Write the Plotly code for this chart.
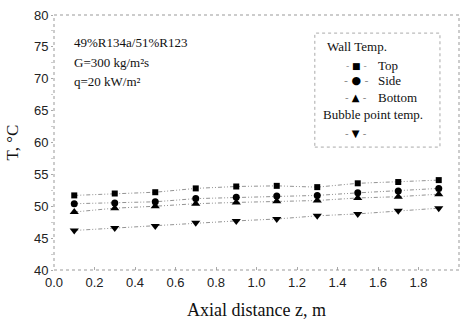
import plotly.graph_objects as go

z = [0.1, 0.3, 0.5, 0.7, 0.9, 1.1, 1.3, 1.5, 1.7, 1.9]
top = [51.7, 52.0, 52.2, 52.8, 53.1, 53.2, 53.0, 53.6, 53.8, 54.1]
side = [50.4, 50.5, 50.7, 51.2, 51.4, 51.6, 51.7, 52.1, 52.4, 52.8]
bottom = [49.1, 49.7, 50.0, 50.4, 50.6, 50.8, 50.9, 51.3, 51.5, 51.9]
bubble = [46.2, 46.6, 46.9, 47.4, 47.7, 48.0, 48.5, 48.8, 49.3, 49.7]

series_names = ["Top", "Side", "Bottom", "Bubble point temp."]
series_vals = [top, side, bottom, bubble]
symbols = ["square", "circle", "triangle-up", "triangle-down"]
sizes = [6, 7, 8, 8]
glyphs = ["■", "●", "▲", "▼"]
glyph_sizes = [9, 11, 10, 10]

serif = "Liberation Serif"
sans = "Liberation Sans"

fig = go.Figure()
for name, vals, sym, sz in zip(series_names, series_vals, symbols, sizes):
    fig.add_trace(go.Scatter(
        x=z, y=vals, mode="lines+markers", name=name, showlegend=False,
        marker=dict(symbol=sym, size=sz, color="#000"),
        line=dict(color="#777", width=0.8, dash="4px,2px,1px,2px,1px,2px"),
    ))

fig.update_layout(
    width=467, height=325,
    margin=dict(l=54, r=8, t=15, b=55),
    paper_bgcolor="white", plot_bgcolor="white",
    xaxis=dict(range=[0, 2.0], dtick=0.2, tickformat=".1f", showgrid=False, zeroline=False,
               ticks="inside", ticklen=3, tickcolor="#aaa", ticklabelstandoff=3,
               tickfont=dict(family=sans, size=13, color="#222"),
               title=dict(text="Axial distance z, m", font=dict(family=serif, size=18, color="#111"), standoff=14)),
    yaxis=dict(range=[40, 80], dtick=5, showgrid=False, zeroline=False,
               ticks="outside", ticklen=2, tickcolor="#aaa",
               minor=dict(dtick=2.5, ticks="outside", ticklen=2, tickcolor="#ccc"),
               tickfont=dict(family=sans, size=13, color="#222"),
               title=dict(text="T, °C", font=dict(family=serif, size=17, color="#111"), standoff=10)),
    font=dict(family=serif),
)

# dotted plot frame
fig.add_shape(type="rect", xref="paper", yref="paper", x0=0, y0=0, x1=1, y1=1,
              line=dict(color="#999", width=1, dash="dot"))
# dotted legend box
fig.add_shape(type="rect", xref="paper", yref="paper", x0=0.644, y0=0.482, x1=0.953, y1=0.929,
              line=dict(color="#aaa", width=1, dash="dot"))

notes = ["49%R134a/51%R123", "G=300 kg/m²s", "q=20 kW/m²"]
for i, t in enumerate(notes):
    fig.add_annotation(text=t, xref="paper", yref="paper", x=0.045, y=0.892 - i * 0.077,
                       xanchor="left", yanchor="middle", showarrow=False,
                       font=dict(family=serif, size=13, color="#111"))

# legend (manual)
def ann(text, x, y, size=13, family=serif, anchor="left"):
    fig.add_annotation(text=text, xref="paper", yref="paper", x=x, y=y,
                       xanchor=anchor, yanchor="middle", showarrow=False,
                       font=dict(family=family, size=size, color="#111"))

ann("Wall Temp.", 0.669, 0.875)
ann("Bubble point temp.", 0.660, 0.608)
leg_y = [0.800, 0.745, 0.678, 0.537]
leg_labels = ["Top", "Side", "Bottom", ""]
for g, gs, yy, lab in zip(glyphs, glyph_sizes, leg_y, leg_labels):
    fig.add_annotation(text="<span style='color:#888'>- </span>" + g + "<span style='color:#888'> -</span>",
                       xref="paper", yref="paper", x=0.746, y=yy, xanchor="center", yanchor="middle",
                       showarrow=False, font=dict(family="DejaVu Sans", size=gs, color="#000"))
    if lab:
        ann(lab, 0.795, yy)

fig.write_html("out.html")
